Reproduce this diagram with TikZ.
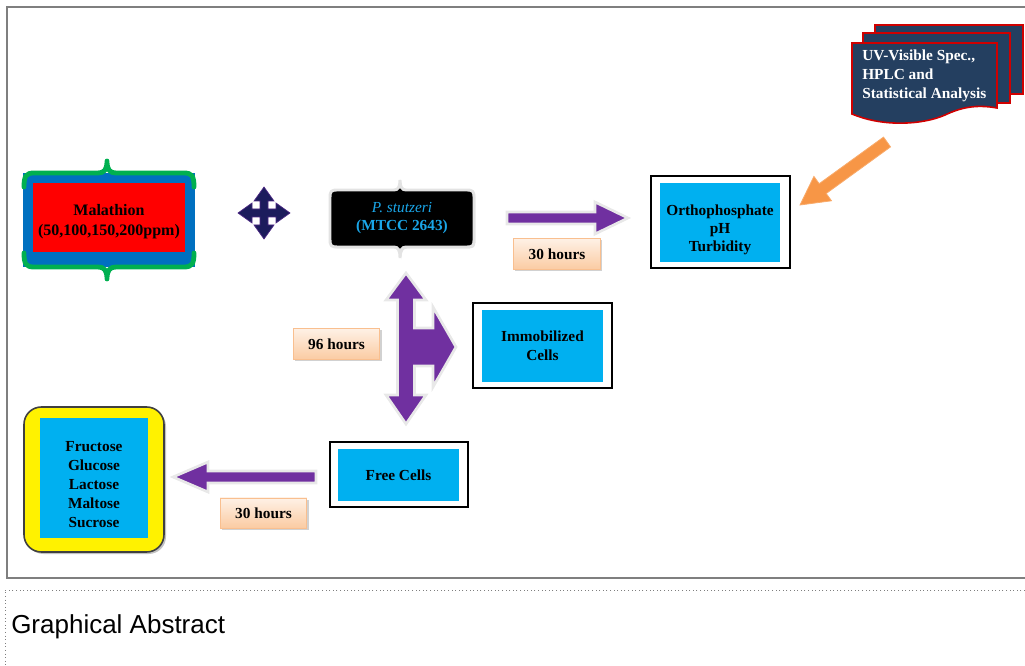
\documentclass[tikz,border=0pt]{standalone}
\usepackage{fontspec}
\setmainfont{Liberation Serif}
\newfontfamily\gafont{Liberation Sans}
\usetikzlibrary{shadows}
\definecolor{cyanbox}{HTML}{00B0F0}
\definecolor{purp}{HTML}{7030A0}
\definecolor{navyA}{HTML}{1C1C5C}
\definecolor{docnavy}{HTML}{243F60}
\definecolor{docred}{HTML}{D00000}
\definecolor{orangeA}{HTML}{F79646}
\definecolor{mgreen}{HTML}{00B050}
\definecolor{mblue}{HTML}{0070C0}
\definecolor{ptext}{HTML}{1AA6E8}
\definecolor{peachT}{HTML}{FEF1E6}
\definecolor{peachBot}{HTML}{FBCBA2}
\definecolor{peachB}{HTML}{F9BF8F}
\definecolor{framegray}{HTML}{7F7F7F}
\tikzset{
  outerbox/.style={draw=black, line width=1pt, fill=white, inner sep=0pt},
  cyanfill/.style={fill=cyanbox, inner sep=0pt, align=center, font=\boxfont},
  boxtext/.style={inner sep=0pt, align=center, font=\boxfont},
  hourlabel/.style={draw=peachB, line width=0.6pt, top color=peachT, bottom color=peachBot,
    drop shadow={shadow xshift=1.3pt, shadow yshift=-1.3pt, fill=black!30, opacity=0.6},
    inner sep=0pt, font=\boxfont, minimum width=65pt, minimum height=23.5pt},
  blockarrow/.style={fill=purp, draw=gray!18, line width=2pt, line join=miter},
  bracegreen/.style={mgreen, line width=3.6pt, line cap=round, line join=round},
}
\newcommand{\boxfont}{\fontsize{11.5}{14}\selectfont\bfseries}
\begin{document}
\begin{tikzpicture}[x=0.75pt,y=-0.75pt]
\useasboundingbox (0,0) rectangle (1025,666);
% frame
\draw[framegray, line width=0.9pt] (1025,7) -- (7,7) -- (7,578) -- (1025,578);
\draw[framegray, dotted, line width=0.7pt] (1025,590) -- (5,590) -- (5,666);
\node[anchor=west, inner sep=0pt, font=\gafont\fontsize{19.5}{21}\selectfont] (ga) at (11,627) {Graphical Abstract};

% Malathion
\fill[mblue] (23,173) rectangle (195,267);
\draw[bracegreen]
  (24,187) .. controls (24,176) and (26,173) .. (34,173) -- (98,173)
  .. controls (104,173) and (107,170) .. (107,161)
  .. controls (107,170) and (110,173) .. (116,173) -- (184,173)
  .. controls (192,173) and (194,176) .. (194,187);
\draw[bracegreen]
  (24,253) .. controls (24,264) and (26,267) .. (34,267) -- (98,267)
  .. controls (104,267) and (107,270) .. (107,279)
  .. controls (107,270) and (110,267) .. (116,267) -- (184,267)
  .. controls (192,267) and (194,264) .. (194,253);
\fill[red] (33,183) rectangle (185,252);
\node[boxtext, font=\fontsize{12}{15}\selectfont\bfseries] (mal) at (109,222) {Malathion\\(50,100,150,200ppm)};

% four-way arrow
\filldraw[fill=navyA, draw=purp!60!navyA, line width=0.5pt]
 (264,187) -- (274,201) -- (268,201) -- (268,209) -- (276,209) -- (276,203)
 -- (290,213) -- (276,223) -- (276,217) -- (268,217) -- (268,225) -- (274,225)
 -- (264,239) -- (254,225) -- (260,225) -- (260,217) -- (252,217) -- (252,223)
 -- (238,213) -- (252,203) -- (252,209) -- (260,209) -- (260,201) -- (254,201) -- cycle;

% P. stutzeri
\filldraw[fill=black, draw=gray!22, line width=2.2pt, drop shadow={shadow xshift=1pt, shadow yshift=-1pt, fill=black!25, opacity=0.5}]
 (330,198) .. controls (330,191) and (331,190) .. (338,190) -- (394,190)
 .. controls (398,190) and (400,187) .. (400,180)
 .. controls (400,187) and (402,190) .. (406,190) -- (466,190)
 .. controls (473,190) and (474,191) .. (474,198) -- (474,239)
 .. controls (474,246) and (473,247) .. (466,247) -- (406,247)
 .. controls (402,247) and (400,250) .. (400,258)
 .. controls (400,250) and (398,247) .. (394,247) -- (338,247)
 .. controls (331,247) and (330,246) .. (330,239) -- cycle;
\node[boxtext, text=ptext] (pst) at (402,218) {{\mdseries\itshape P. stutzeri}\\(MTCC 2643)};

% right arrow (top)
\filldraw[blockarrow] (507,212) -- (595,212) -- (595,202) -- (628,218) -- (595,234) -- (595,224) -- (507,224) -- cycle;
\node[hourlabel] (h1) at (557,254) {30 hours};

% Orthophosphate
\node[outerbox, minimum width=104.25pt, minimum height=69pt] (orthoO) at (720.5,222) {};
\node[fill=cyanbox, inner sep=0pt, minimum width=90pt, minimum height=59.25pt] (orthoI) at (720,222.5) {};
\node[boxtext, font=\fontsize{11.5}{13.5}\selectfont\bfseries] (ortho) at (720,230) {Orthophosphate\\pH\\Turbidity};

% UV stack
\filldraw[fill=docnavy, draw=docred, line width=1.2pt] (875,25) rectangle (1023,94);
\filldraw[fill=docnavy, draw=docred, line width=1.2pt] (863,33) rectangle (1010,103);
\filldraw[fill=docnavy, draw=docred, line width=1.2pt]
 (852,43) -- (997,43) -- (997,108) .. controls (975,104) and (960,108) .. (945,115)
 .. controls (925,124) and (885,128) .. (852,114) -- cycle;
\node[anchor=west, inner sep=0pt, align=left, text=white, font=\fontsize{11.5}{14}\selectfont\bfseries] (uv) at (862,76) {UV-Visible Spec.,\\HPLC and\\Statistical Analysis};

% orange arrow
\filldraw[fill=orangeA, draw=orangeA!80!white, line width=0.6pt]
 (800,205) -- (831.5,200.8) -- (826.2,193.5) -- (890.5,146.9) -- (883.5,137.1)
 -- (819.2,183.7) -- (813.9,176.4) -- cycle;

% T-shaped double arrow
\filldraw[blockarrow]
 (406,273) -- (426,300) -- (414.5,300) -- (414.5,328) -- (433,328) -- (433,307)
 -- (456,347) -- (433,387) -- (433,366) -- (414.5,366) -- (414.5,395) -- (426,395)
 -- (406,424) -- (386,395) -- (397.5,395) -- (397.5,300) -- (386,300) -- cycle;
\node[hourlabel] (h2) at (336.5,344) {96 hours};

% Immobilized cells
\node[outerbox, minimum width=104.25pt, minimum height=63.75pt] (immO) at (542.5,345.5) {};
\node[cyanfill, minimum width=90.75pt, minimum height=54pt] (imm) at (542.5,346) {Immobilized\\Cells};

% Free cells
\node[outerbox, minimum width=103.5pt, minimum height=48.75pt] (freeO) at (399,474.5) {};
\node[cyanfill, minimum width=90.75pt, minimum height=39pt] (free) at (398.5,475) {Free Cells};

% left arrow
\filldraw[blockarrow] (316,471) -- (208,471) -- (208,462) -- (173,477) -- (208,492) -- (208,483) -- (316,483) -- cycle;
\node[hourlabel, minimum height=22.5pt] (h3) at (263.5,513) {30 hours};

% Sugars
\node[draw=black!75, line width=1.2pt, fill=yellow, rounded corners=13pt, inner sep=0pt,
  minimum width=105pt, minimum height=108.75pt,
  drop shadow={shadow xshift=1.5pt, shadow yshift=-1.5pt, fill=black!40, opacity=0.6}] (sugO) at (94,479.5) {};
\node[fill=cyanbox, inner sep=0pt, minimum width=81pt, minimum height=90pt] (sugI) at (94,478) {};
\node[boxtext, font=\fontsize{11.5}{14.25}\selectfont\bfseries] (sug) at (94,485) {Fructose\\Glucose\\Lactose\\Maltose\\Sucrose};
\end{tikzpicture}
\end{document}
